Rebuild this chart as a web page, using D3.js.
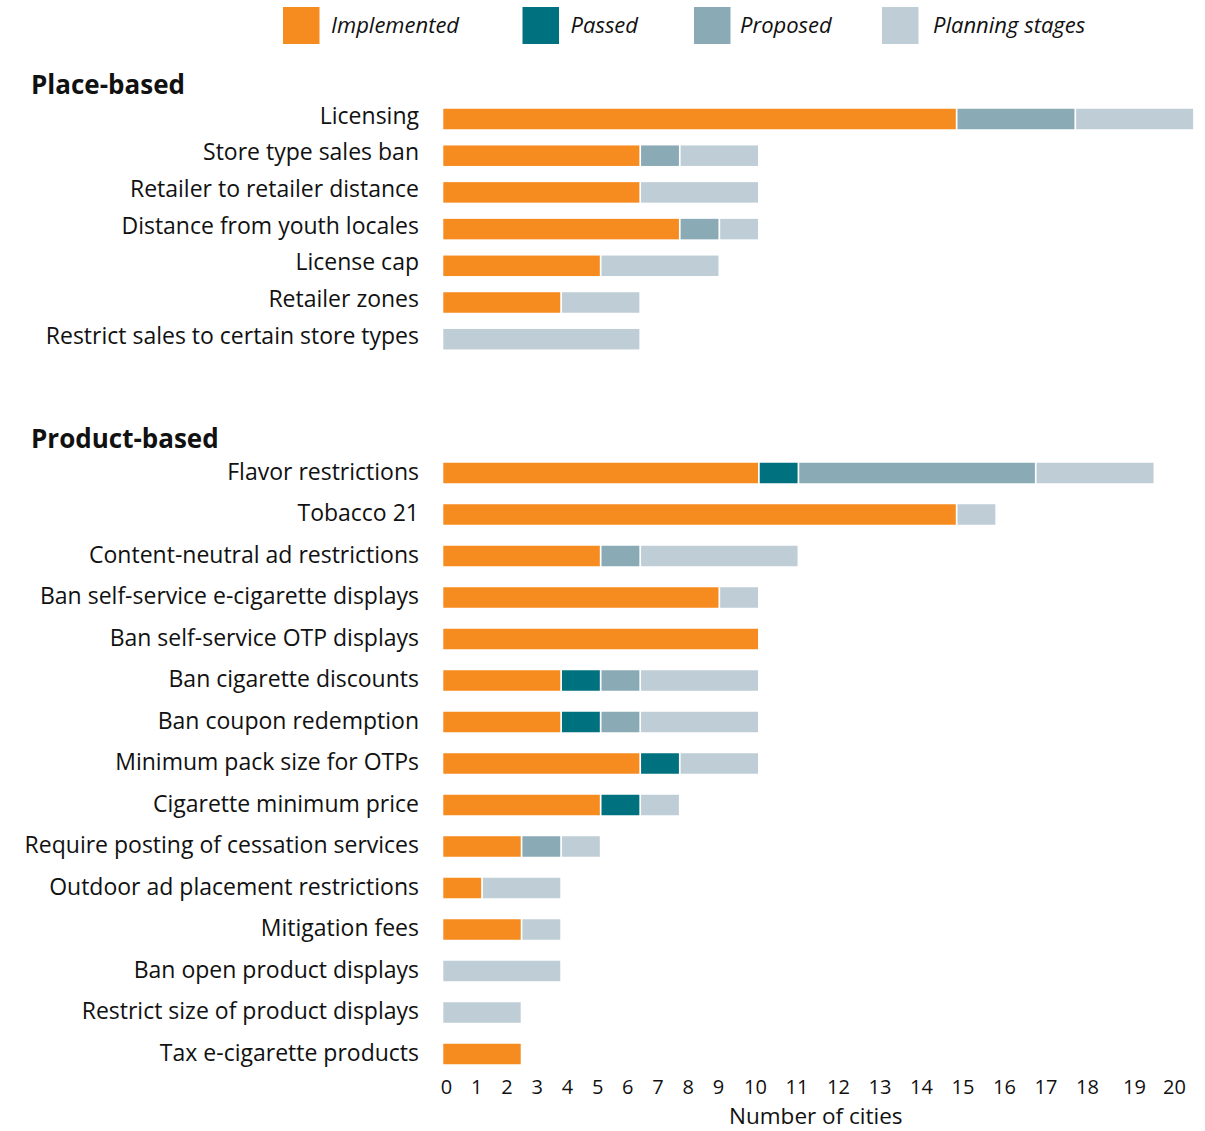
<!DOCTYPE html>
<html><head><meta charset="utf-8">
<script src="https://cdn.jsdelivr.net/npm/d3@7"></script>
<style>
html,body{margin:0;padding:0;background:#fff;}
svg{display:block;font-family:"Open Sans",sans-serif;}
</style></head>
<body>
<svg id="chart" width="1205" height="1131"></svg>
<script>
// ---- data ----
const seriesNames = ["Implemented", "Passed", "Proposed", "Planning stages"];
const seriesColors = ["#F68B1F", "#00727F", "#8AAAB5", "#BFCED6"];

const placeTitle = "Place-based";
const placeCategories = [
  "Licensing", "Store type sales ban", "Retailer to retailer distance",
  "Distance from youth locales", "License cap", "Retailer zones",
  "Restrict sales to certain store types"];
const placeImplemented = [13, 5, 5, 6, 4, 3, 0];
const placePassed      = [0, 0, 0, 0, 0, 0, 0];
const placeProposed    = [3, 1, 0, 1, 0, 0, 0];
const placePlanning    = [3, 2, 3, 1, 3, 2, 5];

const productTitle = "Product-based";
const productCategories = [
  "Flavor restrictions", "Tobacco 21", "Content-neutral ad restrictions",
  "Ban self-service e-cigarette displays", "Ban self-service OTP displays",
  "Ban cigarette discounts", "Ban coupon redemption", "Minimum pack size for OTPs",
  "Cigarette minimum price", "Require posting of cessation services",
  "Outdoor ad placement restrictions", "Mitigation fees", "Ban open product displays",
  "Restrict size of product displays", "Tax e-cigarette products"];
const productImplemented = [8, 13, 4, 7, 8, 3, 3, 5, 4, 2, 1, 2, 0, 0, 2];
const productPassed      = [1, 0, 0, 0, 0, 1, 1, 1, 1, 0, 0, 0, 0, 0, 0];
const productProposed    = [6, 0, 1, 0, 0, 1, 1, 0, 0, 1, 0, 0, 0, 0, 0];
const productPlanning    = [3, 1, 4, 1, 0, 3, 3, 2, 1, 1, 2, 1, 3, 2, 0];

const axisTicks = [0,1,2,3,4,5,6,7,8,9,10,11,12,13,14,15,16,17,18,19,20];
const axisTitle = "Number of cities";

// ---- layout ----
const svg = d3.select("#chart");
const x = d3.scaleLinear().domain([0, 19]).range([443.3, 1194.8]);
// tick labels in the reference are unevenly spaced
const xAxisScale = d3.scaleLinear()
  .domain([0, 9, 10, 18, 19, 20])
  .range([446, 718, 755, 1087, 1134, 1174]);
const barH = 20.5, gap = 1.7;
const color = d3.scaleOrdinal().domain(seriesNames).range(seriesColors);

function build(cats, impl, pass, prop, plan) {
  return cats.map((c, i) => ({
    cat: c, "Implemented": impl[i], "Passed": pass[i],
    "Proposed": prop[i], "Planning stages": plan[i]}));
}

const groups = [
  {title: placeTitle, data: build(placeCategories, placeImplemented, placePassed, placeProposed, placePlanning),
   range: [100.65, 357.55], labelDy: 4.5},
  {title: productTitle, data: build(productCategories, productImplemented, productPassed, productProposed, productPlanning),
   range: [452.25, 1074.75], labelDy: 6.5}
];

const stack = d3.stack().keys(seriesNames);

groups.forEach(g => {
  const y = d3.scalePoint().domain(g.data.map(d => d.cat)).range(g.range).padding(0.5);
  const first = y(g.data[0].cat);
  svg.append("text")
    .attr("x", 31).attr("y", first - 25.5)
    .attr("font-size", 26).attr("font-weight", 700).attr("fill", "#111")
    .text(g.title);

  svg.append("g").selectAll("text").data(g.data).join("text")
    .attr("x", 419).attr("y", d => y(d.cat) + g.labelDy)
    .attr("text-anchor", "end").attr("font-size", 23).attr("fill", "#111")
    .text(d => d.cat);

  const layers = stack(g.data);
  svg.append("g").selectAll("g").data(layers).join("g")
    .attr("fill", d => color(d.key))
    .selectAll("rect").data(d => d.filter(s => s[1] - s[0] > 0)).join("rect")
    .attr("x", d => x(d[0]))
    .attr("y", d => y(d.data.cat) - barH / 2)
    .attr("width", d => x(d[1]) - x(d[0]) - gap)
    .attr("height", barH);
});

// axis
const axisG = svg.append("g").attr("transform", "translate(0,1077)")
  .call(d3.axisBottom(xAxisScale).tickValues(axisTicks).tickSize(0).tickPadding(3).tickFormat(d3.format("d")));
axisG.select(".domain").remove();
axisG.selectAll("text").attr("font-size", 20).attr("font-family", "Open Sans, sans-serif").attr("fill", "#111");

svg.append("text").attr("x", 815.8).attr("y", 1124.3)
  .attr("text-anchor", "middle").attr("font-size", 22.5).attr("fill", "#111")
  .text(axisTitle);

// legend
const legendX = d3.scaleOrdinal().domain(seriesNames).range([283, 522.5, 694, 882]);
const lg = svg.append("g").selectAll("g").data(seriesNames).join("g")
  .attr("transform", d => `translate(${legendX(d)},7)`);
lg.append("rect").attr("width", 36.5).attr("height", 37).attr("fill", d => color(d));
lg.append("text").attr("x", d => d === "Planning stages" ? 51 : (d === "Proposed" ? 46 : 48)).attr("y", 26)
  .attr("font-size", 22).attr("font-style", "italic").attr("fill", "#111")
  .text(d => d);
</script>
</body></html>
